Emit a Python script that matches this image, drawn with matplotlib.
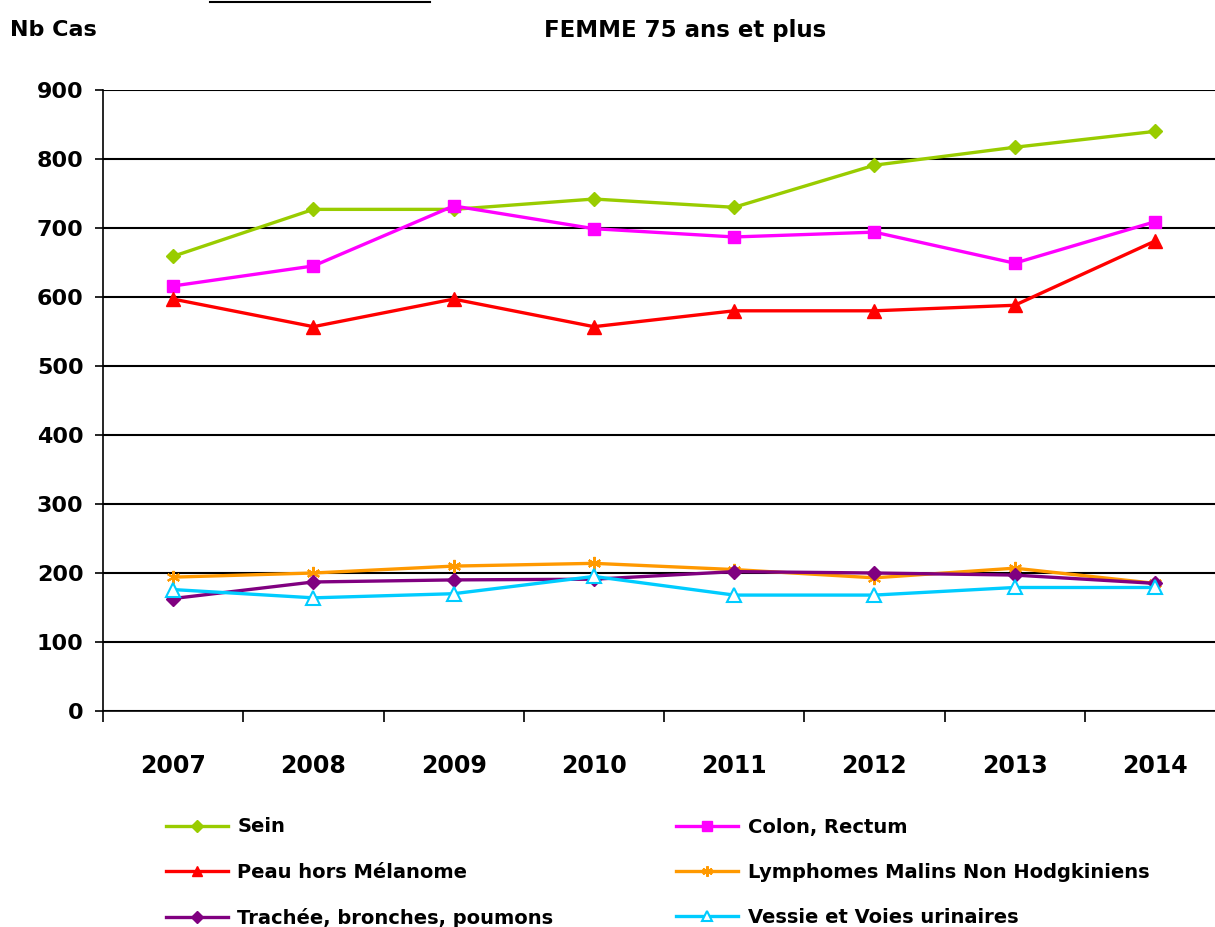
import matplotlib.pyplot as plt
from matplotlib.lines import Line2D

years = ["2007", "2008", "2009", "2010", "2011", "2012", "2013", "2014"]

sein = [659, 727, 727, 742, 730, 791, 817, 840]
colon = [616, 645, 732, 699, 687, 694, 649, 709]
peau = [597, 557, 597, 557, 580, 580, 588, 681]
lymphomes = [194, 200, 210, 214, 205, 193, 207, 185]
trachee = [163, 187, 190, 191, 202, 200, 197, 185]
vessie = [176, 164, 170, 195, 168, 168, 179, 179]

labels = ["Sein", "Colon, Rectum", "Peau hors Mélanome",
          "Lymphomes Malins Non Hodgkiniens", "Trachée, bronches, poumons",
          "Vessie et Voies urinaires"]

plt.rcParams['font.family'] = ['DejaVu Sans']
plt.rcParams['font.weight'] = 'bold'

fig = plt.figure(figsize=(12.15, 9.27), dpi=100)
ax = fig.add_axes([103 / 1215, 216 / 927, 1122 / 1215, 621 / 927])

x = list(range(len(years)))
lw = 2.4
ax.plot(x, sein, color="#99CC00", lw=lw, marker="D", ms=7.5, label=labels[0])
ax.plot(x, colon, color="#FF00FF", lw=lw, marker="s", ms=8.5, label=labels[1])
ax.plot(x, peau, color="#FF0000", lw=lw, marker="^", ms=9.5, label=labels[2])
ax.plot(x, lymphomes, color="#FF9900", lw=lw, marker=(6, 2, 0), ms=9.5, mew=1.5, label=labels[3])
ax.plot(x, trachee, color="#800080", lw=lw, marker="D", ms=7.5, label=labels[4])
ax.plot(x, vessie, color="#00CCFF", lw=lw, marker="^", ms=9.5, mfc="white", mew=1.5, label=labels[5])

ax.set_xlim(-0.5, 7.5)
ax.set_ylim(0, 900)
ax.set_yticks(range(0, 901, 100))
ax.set_yticklabels([str(v) for v in range(0, 901, 100)], fontsize=16, fontweight='bold')
ax.yaxis.grid(True, color="black", lw=1.5)
ax.set_axisbelow(True)

ax.set_xticks([i - 0.5 for i in range(9)], minor=False)
ax.set_xticklabels([])
ax.set_xticks(x, minor=True)
ax.set_xticklabels(years, minor=True, fontsize=17, fontweight='bold')
ax.tick_params(axis='x', which='minor', length=0, pad=31)
ax.tick_params(axis='x', which='major', length=8, width=1.2)
ax.tick_params(axis='y', length=6, width=1.2, pad=8)

for s in ["top", "right"]:
    ax.spines[s].set_visible(False)
ax.spines["left"].set_linewidth(1.2)
ax.spines["bottom"].set_linewidth(1.2)

fig.text(10 / 1215, 1 - 30 / 927, "Nb Cas", fontsize=16, fontweight='bold', va='center')
fig.text(685 / 1215, 1 - 31 / 927, "FEMME 75 ans et plus", fontsize=16.5,
         fontweight='bold', va='center', ha='center')
fig.add_artist(Line2D([210 / 1215, 430 / 1215], [1 - 2 / 927, 1 - 2 / 927],
                      color="black", lw=1.5, transform=fig.transFigure))

handles, labs = ax.get_legend_handles_labels()
order = [0, 2, 4, 1, 3, 5]
fig.legend([handles[i] for i in order], [labs[i] for i in order], ncol=2,
           loc="upper left", bbox_to_anchor=(148 / 1215, 1 - 800 / 927),
           frameon=False, fontsize=14, labelspacing=1.35, columnspacing=6.3,
           handlelength=3.2, handletextpad=0.5, markerscale=0.8)

fig.savefig("out.png", dpi=100)
